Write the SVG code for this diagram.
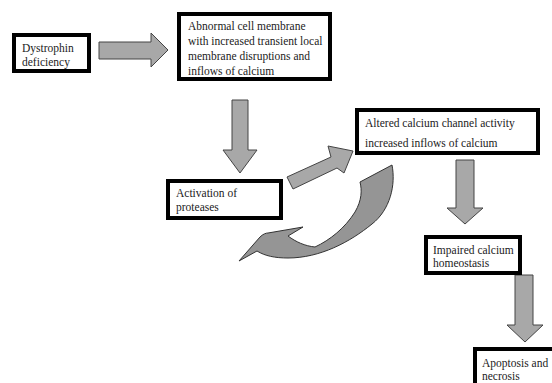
<svg xmlns="http://www.w3.org/2000/svg" width="552" height="383" viewBox="0 0 552 383">
<style>
.box{fill:#fff;stroke:#000;stroke-width:4}
.t{font-family:"Liberation Serif","Times New Roman",serif;font-size:11.5px;fill:#222}
.arr{fill:#a8a8a8;stroke:#444;stroke-width:1}
.curve{fill:#959595;stroke:#333;stroke-width:1}
</style>
<rect width="552" height="383" fill="#fff"/>
<g id="connectors">
<polygon class="arr" points="99,42 151,42 151,33 168,50 151,67 151,59 99,59"/>
<polygon class="arr" points="232,100 248,100 248,150 257,150 240,173 223,150 232,150"/>
<polygon class="arr" points="287,177 331,157 328,146 353,151 344,173 337,168 293,189"/>
<path class="curve" d="M360,182 L392,165 C396,185 390,210 372,224 C350,242 320,258 288,258 C275,258 265,256 257,251 L239,261 L260,237 C263,234 266,233 268,233 L303,227 L288,236 C296,242 305,246 315,247 C330,240 345,228 355,212 C362,200 362,190 360,182 Z"/>
<polygon class="arr" points="456,160 474,160 474,208 483,208 465,224 447,208 456,208"/>
<polygon class="arr" points="515,275 533,275 533,325 543,325 525,342 507,325 515,325"/>
</g>
<g id="dystrophin">
<rect class="box" x="14" y="35" width="75" height="36"/>
<text class="t" x="22" y="52">Dystrophin</text>
<text class="t" x="22" y="66">deficiency</text>
</g>
<g id="abnormal">
<rect class="box" x="179" y="14" width="151" height="65"/>
<text class="t" x="188" y="30">Abnormal cell membrane</text>
<text class="t" x="188" y="45">with increased transient local</text>
<text class="t" x="188" y="60">membrane disruptions and</text>
<text class="t" x="188" y="75">inflows of calcium</text>
</g>
<g id="activation">
<rect class="box" x="168" y="181" width="113" height="37"/>
<text class="t" x="176" y="197">Activation of</text>
<text class="t" x="176" y="211">proteases</text>
</g>
<g id="altered">
<rect class="box" x="357" y="110" width="181" height="43"/>
<text class="t" x="365" y="127">Altered calcium channel activity</text>
<text class="t" x="365" y="147">increased inflows of calcium</text>
</g>
<g id="impaired">
<rect class="box" x="426" y="237" width="94" height="36"/>
<text class="t" x="433" y="254">Impaired calcium</text>
<text class="t" x="433" y="267">homeostasis</text>
</g>
<g id="apoptosis">
<rect class="box" x="475" y="349" width="82" height="40"/>
<text class="t" x="482" y="367">Apoptosis and</text>
<text class="t" x="482" y="380">necrosis</text>
</g>
</svg>
